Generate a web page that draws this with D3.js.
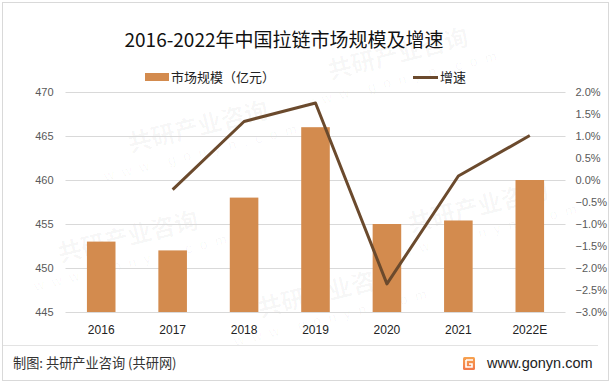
<!DOCTYPE html>
<html>
<head>
<meta charset="utf-8">
<script src="https://cdn.jsdelivr.net/npm/d3@7"></script>
<style>
  body { margin: 0; background: #fff; }
  svg { display: block; }
</style>
</head>
<body>
<script>
const years = ["2016", "2017", "2018", "2019", "2020", "2021", "2022E"];
const marketSize = [453, 452, 458, 466, 455, 455.4, 460];   // 亿元
const growth = [null, -0.22, 1.33, 1.75, -2.36, 0.09, 1.01]; // %
const leftTicks = [445, 450, 455, 460, 465, 470];
const rightTicks = [-3, -2.5, -2, -1.5, -1, -0.5, 0, 0.5, 1, 1.5, 2];

const width = 613, height = 386;
const barColor = "#d38b4e";
const lineColor = "#6b4a2d";
const cjk = "'Noto Sans CJK SC', 'Noto Sans', sans-serif";
const latin = "'Liberation Sans', Arial, sans-serif";

const svg = d3.select("body").append("svg")
  .attr("width", width)
  .attr("height", height);

svg.append("rect")
  .attr("width", width).attr("height", height)
  .attr("fill", "#fff");

// faint watermark tiles (kept inside the frame)
const wm = svg.append("g").attr("pointer-events", "none");
const wmPos = [[200, 135], [400, 62], [480, 215], [130, 245], [330, 300]];
wmPos.forEach(([x, y]) => {
  const g = wm.append("g").attr("transform", `translate(${x},${y}) rotate(-14)`);
  g.append("text")
    .attr("font-family", cjk).attr("font-size", 24).attr("font-weight", 700)
    .attr("fill", "#000").attr("fill-opacity", 0.035)
    .attr("text-anchor", "middle")
    .text("共研产业咨询");
  g.append("text")
    .attr("y", 22)
    .attr("font-family", latin).attr("font-size", 14)
    .attr("letter-spacing", 8)
    .attr("fill", "#000").attr("fill-opacity", 0.035)
    .attr("text-anchor", "middle")
    .text("www.gonyn.com");
});

svg.append("rect")
  .attr("x", 2.5).attr("y", 2.5)
  .attr("width", 606).attr("height", 378)
  .attr("fill", "none")
  .attr("stroke", "#d9d9d9");

// title
svg.append("text")
  .attr("x", 284).attr("y", 47)
  .attr("text-anchor", "middle")
  .attr("font-family", cjk)
  .attr("font-size", 19)
  .attr("fill", "#111")
  .text("2016-2022年中国拉链市场规模及增速");

// scales
const x = d3.scaleBand()
  .domain(years)
  .range([65.5, 565.5])
  .paddingInner(0.6)
  .paddingOuter(0.3);

const yL = d3.scaleLinear().domain([445, 470]).range([312, 92]);
const yR = d3.scaleLinear().domain([-3, 2]).range([312, 92]);

// gridlines
svg.append("g")
  .selectAll("line")
  .data(leftTicks)
  .join("line")
  .attr("x1", 65.5).attr("x2", 565.5)
  .attr("y1", d => Math.round(yL(d)) + 0.5)
  .attr("y2", d => Math.round(yL(d)) + 0.5)
  .attr("stroke", "#d9d9d9");

// left axis
const axL = svg.append("g")
  .attr("transform", "translate(65.5,0)")
  .call(d3.axisLeft(yL).tickValues(leftTicks).tickSize(0).tickPadding(12));
axL.select(".domain").remove();
axL.selectAll("text")
  .attr("font-family", latin).attr("font-size", 11).attr("fill", "#595959");

// right axis
const axR = svg.append("g")
  .attr("transform", "translate(565.5,0)")
  .call(d3.axisRight(yR).tickValues(rightTicks).tickSize(0).tickPadding(10)
    .tickFormat(d => d3.format(".1f")(d) + "%"));
axR.select(".domain").remove();
axR.selectAll("text")
  .attr("font-family", latin).attr("font-size", 11).attr("fill", "#595959");

// bottom axis
const axB = svg.append("g")
  .attr("transform", "translate(0,312)")
  .call(d3.axisBottom(x).tickSize(0).tickPadding(13));
axB.select(".domain").remove();
axB.selectAll("text")
  .attr("font-family", latin).attr("font-size", 12).attr("fill", "#222");

// bars
svg.append("g")
  .selectAll("rect")
  .data(years)
  .join("rect")
  .attr("x", d => x(d))
  .attr("width", x.bandwidth())
  .attr("y", (d, i) => yL(marketSize[i]))
  .attr("height", (d, i) => yL(445) - yL(marketSize[i]))
  .attr("fill", barColor);

// growth line
const lineData = years.map((d, i) => ({ year: d, v: growth[i] })).filter(d => d.v !== null);
svg.append("path")
  .datum(lineData)
  .attr("fill", "none")
  .attr("stroke", lineColor)
  .attr("stroke-width", 3)
  .attr("stroke-linejoin", "round")
  .attr("d", d3.line()
    .x(d => x(d.year) + x.bandwidth() / 2)
    .y(d => yR(d.v)));

// legend
const leg = svg.append("g");
leg.append("rect")
  .attr("x", 145).attr("y", 73)
  .attr("width", 24).attr("height", 8)
  .attr("fill", barColor);
leg.append("text")
  .attr("x", 171).attr("y", 82)
  .attr("font-family", cjk).attr("font-size", 13).attr("fill", "#222")
  .text("市场规模（亿元）");
leg.append("line")
  .attr("x1", 413).attr("x2", 438)
  .attr("y1", 77.5).attr("y2", 77.5)
  .attr("stroke", lineColor).attr("stroke-width", 3);
leg.append("text")
  .attr("x", 440).attr("y", 82)
  .attr("font-family", cjk).attr("font-size", 13).attr("fill", "#222")
  .text("增速");

// footer
svg.append("line")
  .attr("x1", 3).attr("x2", 598)
  .attr("y1", 345.5).attr("y2", 345.5)
  .attr("stroke", "#e3e3e3");

svg.append("text")
  .attr("x", 13).attr("y", 368)
  .attr("font-family", cjk).attr("font-size", 13.2).attr("fill", "#333")
  .text("制图: 共研产业咨询 (共研网)");

const grad = svg.append("defs").append("linearGradient")
  .attr("id", "logoGrad").attr("x1", 0).attr("y1", 0).attr("x2", 0).attr("y2", 1);
grad.append("stop").attr("offset", "0%").attr("stop-color", "#f7a34f");
grad.append("stop").attr("offset", "100%").attr("stop-color", "#f2774a");

const logo = svg.append("g").attr("transform", "translate(463,357)");
logo.append("rect").attr("width", 12).attr("height", 13).attr("rx", 1.5).attr("fill", "url(#logoGrad)");
logo.append("path")
  .attr("d", "M3,3 H10 M3,3 V10 H9 V7 H6")
  .attr("fill", "none").attr("stroke", "#fff").attr("stroke-width", 1.6);

svg.append("text")
  .attr("x", 487).attr("y", 368)
  .attr("font-family", latin).attr("font-size", 14.5).attr("fill", "#222")
  .text("www.gonyn.com");
</script>
</body>
</html>
